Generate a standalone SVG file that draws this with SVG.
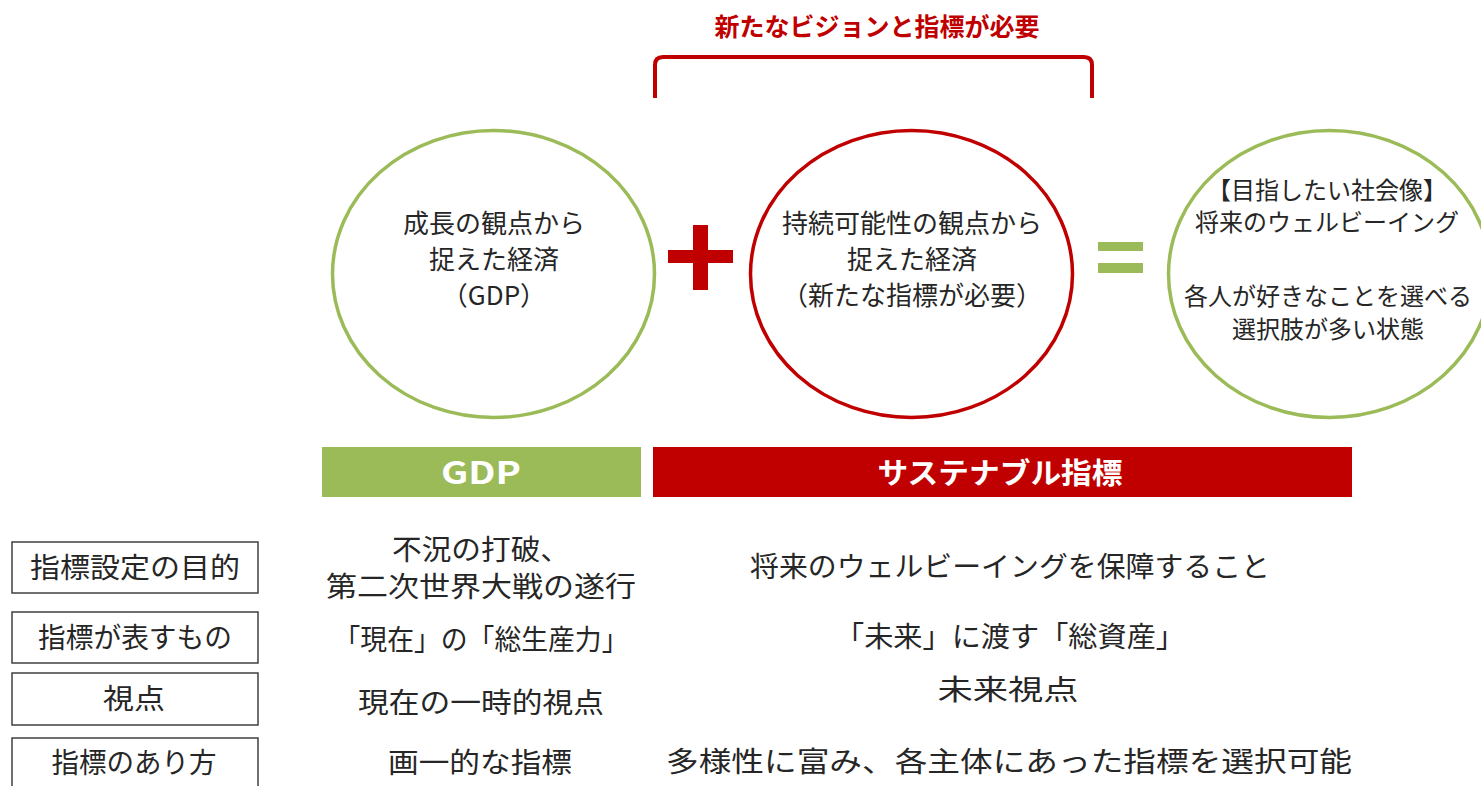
<svg xmlns="http://www.w3.org/2000/svg" width="1481" height="786" viewBox="0 0 1481 786">
<style>
text{font-family:"Noto Sans CJK JP","Noto Sans",sans-serif;fill:#262626;text-anchor:middle}
.c{font-size:26px}
.c3{font-size:24px}
.t{font-size:28px}
.hb{font-weight:bold;fill:#fff}
.ttl{font-size:25px;font-weight:bold;fill:#C00000}
.box{fill:#fff;stroke:#404040;stroke-width:1.5}
</style>
<rect width="1481" height="786" fill="#fff"/>
<g id="title">
<text class="ttl" x="877" y="36">新たなビジョンと指標が必要</text>
<path d="M655 98 V65 Q655 57 663 57 H1084 Q1092 57 1092 65 V98" fill="none" stroke="#C00000" stroke-width="4"/>
</g>
<g id="circle-gdp">
<ellipse cx="493.5" cy="274" rx="161" ry="143.5" fill="none" stroke="#9BBB59" stroke-width="3.5"/>
<text class="c" x="494" y="233">成長の観点から</text>
<text class="c" x="494" y="269">捉えた経済</text>
<text class="c" x="494" y="305">（GDP）</text>
</g>
<g id="plus">
<rect x="693" y="225" width="15" height="65" fill="#C00000"/>
<rect x="668" y="250" width="65" height="13" fill="#C00000"/>
</g>
<g id="circle-sustain">
<ellipse cx="911.5" cy="274" rx="161" ry="143.5" fill="none" stroke="#C00000" stroke-width="3.5"/>
<text class="c" x="912" y="233">持続可能性の観点から</text>
<text class="c" x="912" y="269">捉えた経済</text>
<text class="c" x="912" y="305">（新たな指標が必要）</text>
</g>
<g id="equals">
<rect x="1098" y="242" width="45" height="9" fill="#9BBB59"/>
<rect x="1098" y="263" width="45" height="10" fill="#9BBB59"/>
</g>
<g id="circle-goal">
<ellipse cx="1329.5" cy="274" rx="161" ry="143.5" fill="none" stroke="#9BBB59" stroke-width="3.5"/>
<text class="c3" x="1327" y="199">【目指したい社会像】</text>
<text class="c3" x="1327" y="231">将来のウェルビーイング</text>
<text class="c3" x="1328" y="305">各人が好きなことを選べる</text>
<text class="c3" x="1328" y="338">選択肢が多い状態</text>
</g>
<g id="header-gdp">
<rect x="322" y="447" width="319" height="50" fill="#9BBB59"/>
<text class="hb" x="481" y="484" font-size="31" textLength="80" lengthAdjust="spacingAndGlyphs">GDP</text>
</g>
<g id="header-sustain">
<rect x="653" y="447" width="699" height="50" fill="#C00000"/>
<text class="hb" x="1000" y="484" font-size="29" textLength="245" lengthAdjust="spacingAndGlyphs">サステナブル指標</text>
</g>
<g id="row1">
<rect class="box" x="12" y="542" width="246" height="51"/>
<text class="t" x="135" y="578" textLength="210" lengthAdjust="spacingAndGlyphs">指標設定の目的</text>
<text class="t" x="481" y="560" textLength="178" lengthAdjust="spacingAndGlyphs">不況の打破、</text>
<text class="t" x="481" y="597" textLength="310" lengthAdjust="spacingAndGlyphs">第二次世界大戦の遂行</text>
<text class="t" x="1010" y="577" textLength="520" lengthAdjust="spacingAndGlyphs">将来のウェルビーイングを保障すること</text>
</g>
<g id="row2">
<rect class="box" x="12" y="612" width="246" height="51"/>
<text class="t" x="135" y="648" textLength="194" lengthAdjust="spacingAndGlyphs">指標が表すもの</text>
<text class="t" x="481" y="650" textLength="295" lengthAdjust="spacingAndGlyphs">「現在」の「総生産力」</text>
<text class="t" x="1010" y="647" textLength="350" lengthAdjust="spacingAndGlyphs">「未来」に渡す「総資産」</text>
</g>
<g id="row3">
<rect class="box" x="12" y="673" width="246" height="52"/>
<text class="t" x="134" y="709" textLength="62" lengthAdjust="spacingAndGlyphs">視点</text>
<text class="t" x="481" y="713" textLength="246" lengthAdjust="spacingAndGlyphs">現在の一時的視点</text>
<text class="t" x="1008" y="700" textLength="141" lengthAdjust="spacingAndGlyphs">未来視点</text>
</g>
<g id="row4">
<rect class="box" x="12" y="738" width="246" height="60"/>
<text class="t" x="134" y="773" textLength="165" lengthAdjust="spacingAndGlyphs">指標のあり方</text>
<text class="t" x="480" y="773" textLength="184" lengthAdjust="spacingAndGlyphs">画一的な指標</text>
<text class="t" x="1009" y="772" textLength="686" lengthAdjust="spacingAndGlyphs">多様性に富み、各主体にあった指標を選択可能</text>
</g>
<g id="connectors"></g>
</svg>
